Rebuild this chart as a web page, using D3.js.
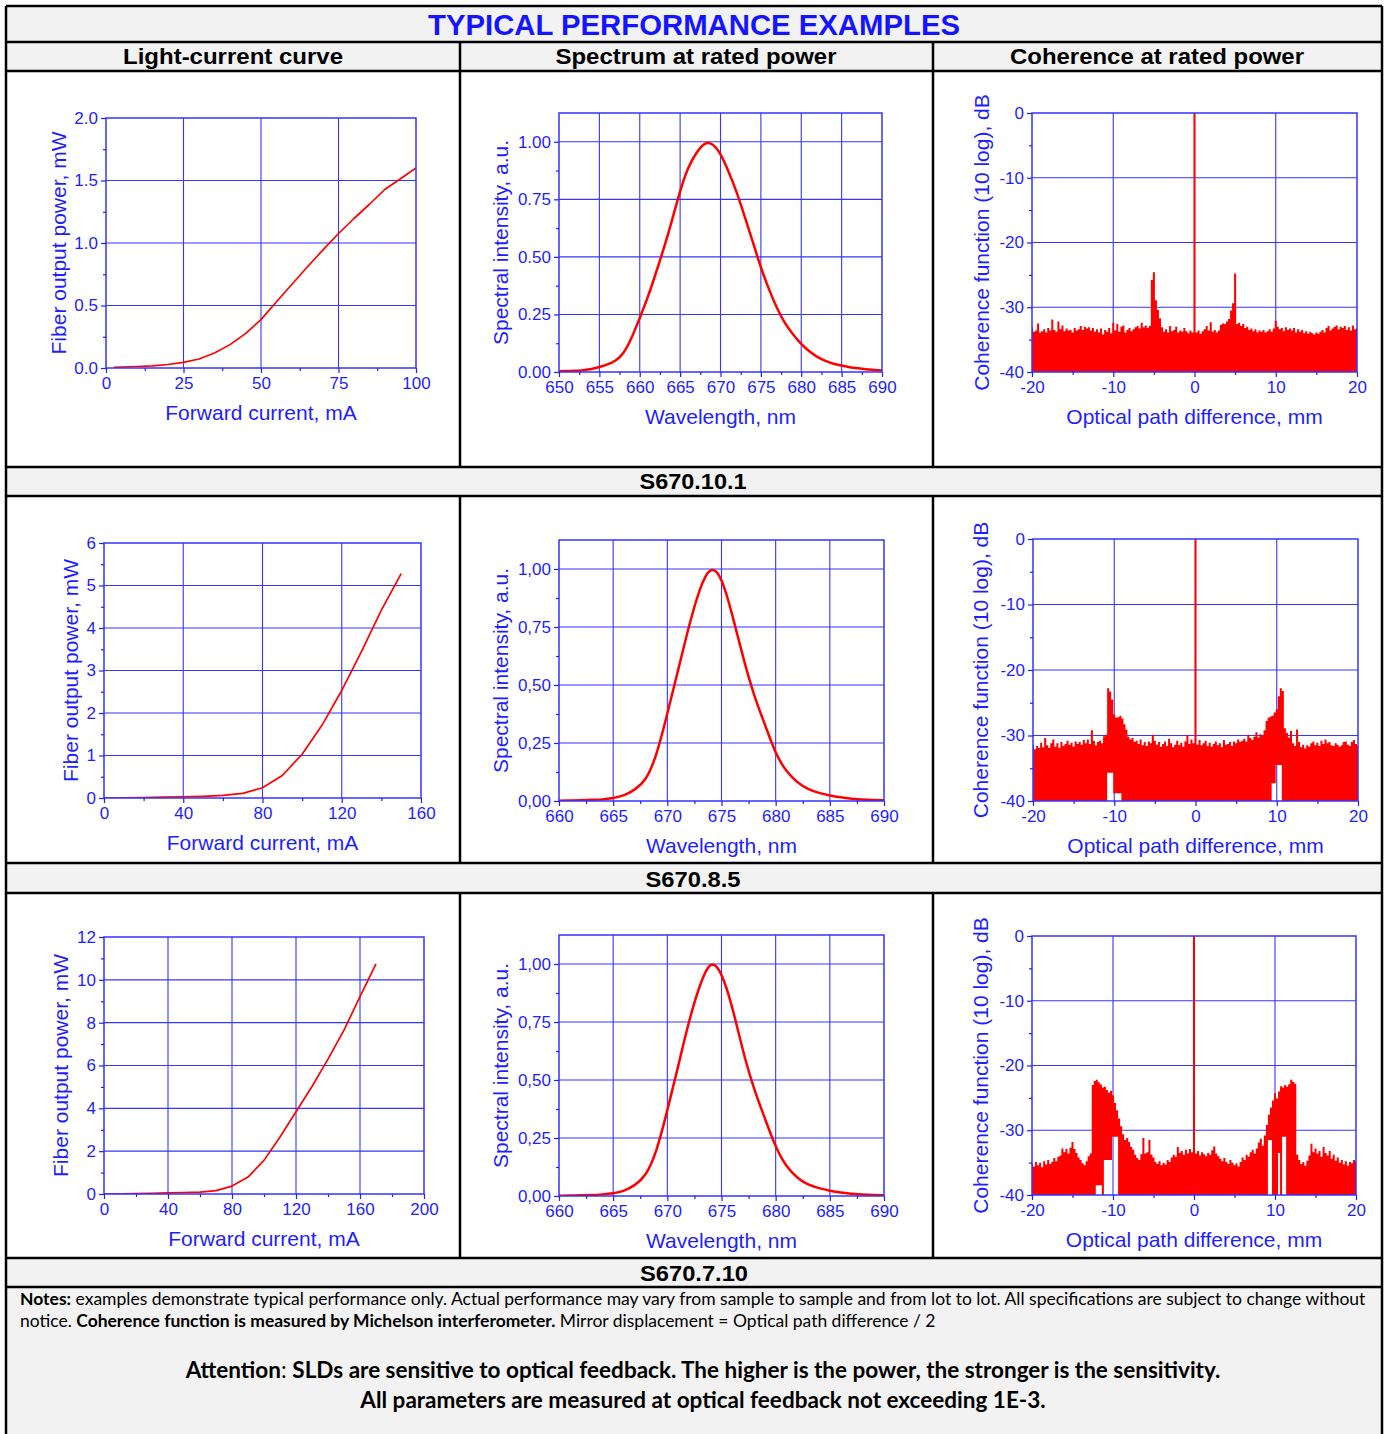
<!DOCTYPE html>
<html>
<head>
<meta charset="utf-8">
<script src="https://cdn.jsdelivr.net/npm/d3@7"></script>
<style>
body{margin:0;background:#fff;}
</style>
</head>
<body>
<div id="sheet"></div>
<script>
//Light-current curves (forward current, mA / fiber power, mW)
var lc1Current=[2.5,5,10,15,20,25,30,35,40,45,50,55,60,65,70,75,80,85,90,95,100];
var lc1Power=[0.005,0.008,0.012,0.017,0.028,0.045,0.072,0.12,0.187,0.275,0.387,0.53,0.67,0.81,0.945,1.076,1.196,1.31,1.43,1.514,1.6];
var lc2Current=[0,10,20,30,40,50,60,70,80,90,100,110,120,130,140,150];
var lc2Power=[0,0.005,0.01,0.02,0.03,0.04,0.06,0.11,0.24,0.53,1.03,1.71,2.53,3.45,4.42,5.28];
var lc3Current=[0,10,20,30,40,50,60,70,80,90,100,110,120,130,140,150,160,170];
var lc3Power=[0,0.01,0.02,0.03,0.05,0.07,0.09,0.155,0.37,0.79,1.57,2.66,3.84,5.02,6.3,7.65,9.22,10.74];

//Spectra (wavelength, nm / intensity, a.u.)
var spec1Wl=[650,651,652,653,654,655,656,657,658,659,660,661,662,663,664,665,666,667,668,669,670,
             671,672,673,674,675,676,677,678,679,680,681,682,683,684,685,686,687,688,689,690];
var spec1Int=[0.003,0.004,0.005,0.008,0.013,0.022,0.033,0.05,0.085,0.15,0.235,0.326,0.43,0.54,0.66,0.785,0.885,0.95,0.99,0.988,0.945,
              0.87,0.78,0.675,0.565,0.455,0.36,0.278,0.212,0.163,0.122,0.09,0.066,0.048,0.036,0.028,0.021,0.016,0.012,0.009,0.006];
var spec2Wl=[660,661,662,663,664,665,666,667,668,669,670,671,672,673,674,675,
             676,677,678,679,680,681,682,683,684,685,686,687,688,689,690];
var spec2Int=[0.001,0.002,0.003,0.005,0.007,0.013,0.025,0.05,0.097,0.205,0.377,0.565,0.752,0.91,0.994,0.95,
              0.8,0.62,0.46,0.33,0.21,0.13,0.082,0.052,0.035,0.024,0.016,0.01,0.006,0.004,0.003];
var spec3Wl=[660,661,662,663,664,665,666,667,668,669,670,671,672,673,674,675,
             676,677,678,679,680,681,682,683,684,685,686,687,688,689,690];
var spec3Int=[0.001,0.002,0.003,0.004,0.007,0.012,0.023,0.048,0.095,0.2,0.37,0.56,0.75,0.905,0.995,0.952,
              0.81,0.625,0.465,0.335,0.215,0.13,0.08,0.05,0.034,0.023,0.015,0.01,0.006,0.004,0.003];

//Coherence (optical path difference grid, mm / upper envelope, dB)
var cohOpd=d3.range(-20,20.001,0.25);
var coh1Db=[
 -33.1,-33.8,-33.6,-32.5,-33.9,-33.7,-33.4,-33.9,
 -33.2,-33.6,-31.9,-33.5,-33.8,-32.2,-33.4,-32.8,
 -33.7,-33.3,-33.6,-33.5,-33.9,-33.2,-33.6,-33.4,
 -32.9,-33.5,-33.0,-33.3,-33.1,-33.6,-33.2,-33.8,
 -33.4,-33.9,-33.3,-34.2,-33.5,-33.8,-33.2,-34.0,
 -32.4,-33.6,-32.6,-33.8,-33.0,-32.8,-33.9,-33.5,
 -33.2,-33.7,-33.4,-33.1,-32.9,-33.3,-32.4,-33.1,
 -32.8,-33.2,-32.9,-25.8,-24.6,-28.9,-30.4,-31.7,
 -33.1,-33.8,-33.4,-33.9,-32.9,-33.7,-33.5,-33.0,
 -33.9,-33.6,-33.8,-33.2,-33.7,-34.0,-33.6,-33.9,
 0,-33.9,-33.6,-34.1,-33.7,-33.4,-32.9,-33.6,
 -32.3,-33.8,-33.5,-33.9,-33.6,-32.7,-32.5,-32.6,
 -32.2,-31.8,-30.5,-29.4,-24.8,-32.6,-32.4,-32.9,
 -32.6,-33.2,-33.0,-33.5,-33.3,-33.7,-33.4,-33.9,
 -33.6,-33.8,-33.5,-33.9,-33.7,-33.4,-33.8,-33.3,
 -32.1,-33.0,-33.4,-33.2,-33.7,-33.1,-33.5,-33.3,
 -33.6,-33.2,-33.9,-33.4,-33.8,-33.5,-34.0,-33.7,
 -34.1,-33.8,-34.0,-34.2,-33.9,-34.1,-33.8,-33.5,
 -33.9,-33.2,-32.9,-33.6,-33.3,-33.0,-32.8,-33.4,
 -33.0,-33.2,-32.9,-33.5,-33.1,-33.6,-32.8,-33.4,
 -33.2];
var coh2Db=[
 -31.4,-32.1,-31.6,-31.9,-31.1,-31.8,-30.4,-31.5,
 -31.9,-31.2,-30.6,-31.7,-31.2,-31.9,-31.0,-31.6,
 -31.3,-30.8,-31.4,-31.1,-31.7,-30.9,-31.3,-31.0,
 -31.4,-30.7,-31.2,-30.6,-31.3,-29.2,-30.8,-31.5,
 -31.0,-30.8,-31.2,-30.1,-29.9,-22.8,-23.3,-24.5,
 -26.8,-27.3,-27.2,-27.0,-27.4,-28.3,-29.1,-30.2,
 -30.6,-30.4,-31.0,-30.8,-31.3,-30.6,-31.5,-31.0,
 -31.6,-30.9,-31.2,-29.9,-30.8,-31.4,-31.0,-31.7,
 -31.3,-30.9,-31.6,-30.5,-31.2,-31.8,-31.4,-30.8,
 -31.5,-31.1,-31.7,-30.9,-29.9,-31.3,-30.6,-31.2,
 0,-31.4,-30.7,-31.5,-31.2,-30.8,-31.6,-31.1,
 -31.7,-31.3,-30.9,-31.5,-31.2,-31.8,-30.7,-31.4,
 -31.3,-31.0,-31.6,-30.9,-31.2,-30.6,-31.0,-30.8,
 -30.5,-30.9,-29.9,-30.4,-30.7,-30.2,-29.5,-30.3,
 -29.8,-30.0,-29.2,-27.8,-27.3,-27.1,-27.0,-26.5,
 -26.0,-24.0,-22.8,-23.2,-28.9,-29.6,-30.3,-29.3,
 -31.2,-31.6,-29.1,-31.0,-31.8,-31.4,-32.0,-31.5,
 -31.7,-31.2,-30.9,-31.5,-31.1,-31.6,-30.8,-31.3,
 -30.6,-31.2,-31.0,-31.5,-31.6,-31.2,-31.4,-31.7,
 -31.5,-31.0,-30.9,-31.4,-31.6,-31.0,-30.7,-31.3,
 -31.6];
var coh3Db=[
 -35.2,-35.6,-34.9,-35.4,-35.0,-35.7,-34.8,-35.3,
 -34.6,-35.2,-34.9,-34.3,-34.8,-34.1,-33.9,-32.8,
 -33.4,-32.9,-33.6,-32.7,-31.8,-32.9,-33.5,-34.2,
 -34.6,-35.1,-35.4,-34.8,-34.0,-33.6,-23.0,-22.4,
 -22.2,-22.6,-22.9,-23.4,-23.3,-23.8,-24.2,-23.9,
 -24.6,-25.8,-26.9,-28.2,-29.4,-30.6,-31.5,-31.2,
 -31.8,-32.6,-33.0,-33.8,-34.3,-34.6,-33.7,-31.2,
 -33.6,-33.4,-31.5,-33.8,-34.2,-34.9,-35.2,-34.8,
 -35.4,-35.0,-35.3,-34.6,-34.9,-34.2,-33.8,-34.1,
 -32.6,-33.5,-33.2,-33.8,-33.0,-33.6,-32.9,-33.4,
 0,-33.6,-33.2,-33.9,-33.4,-33.7,-34.0,-33.5,
 -33.8,-33.1,-32.5,-33.6,-34.0,-34.4,-34.8,-34.3,
 -34.9,-35.2,-34.6,-35.0,-35.4,-35.1,-35.6,-34.9,
 -34.2,-34.6,-33.8,-34.1,-33.4,-33.0,-33.6,-32.8,
 -31.9,-31.3,-32.4,-30.8,-29.2,-27.6,-26.5,-25.4,
 -24.3,-25.1,-24.0,-23.2,-23.4,-23.0,-23.3,-22.9,
 -22.2,-22.5,-22.8,-33.8,-34.6,-35.2,-34.9,-35.5,
 -34.7,-33.9,-32.1,-33.4,-32.8,-33.6,-33.2,-34.1,
 -32.6,-33.5,-33.9,-33.2,-34.4,-33.8,-34.7,-34.2,
 -35.0,-34.6,-35.3,-34.8,-35.5,-34.9,-35.1,-34.6,
 -34.8];
//Where the fringe minima stay above the floor: [from mm, to mm, lower dB]
var coh1Gaps=[];
var coh2Gaps=[[-10.8,-10.1,-35.7],[-10.0,-9.2,-38.8],[9.4,9.95,-37.3],[10.0,10.5,-34.5]];
var coh3Gaps=[[-12.1,-11.4,-38.5],[-11.0,-10.2,-34.6],[-10.0,-9.5,-31.0],[9.2,9.7,-31.5],[10.3,10.7,-33.5],[11.0,11.4,-31.0]];

//Tick values
var lc1XTicks=[0,25,50,75,100], lc1YTicks=[0,0.5,1,1.5,2];
var lc2XTicks=[0,40,80,120,160], lc2YTicks=[0,1,2,3,4,5,6];
var lc3XTicks=[0,40,80,120,160,200], lc3YTicks=[0,2,4,6,8,10,12];
var spec1XTicks=[650,655,660,665,670,675,680,685,690];
var spec2XTicks=[660,665,670,675,680,685,690];
var specYTicks=[0,0.25,0.5,0.75,1];
var cohXTicks=[-20,-10,0,10,20], cohYTicks=[-40,-30,-20,-10,0];

var W=1388, H=1434;
var blue="#1e1eff", gridBlue="#3535ff", red="#ff0000", gray="#f2f2f2";
var arial='"Liberation Sans", Arial, sans-serif';
var narrow='"Liberation Sans Narrow", "Liberation Sans", Arial, sans-serif';

var svg=d3.select("#sheet")
          .append("svg")
          .attr("width",W)
          .attr("height",H);

//Gray bands of the table
var bands=[[6,42],[42,71],[467,496],[863,893],[1258,1287],[1287,1440]];
svg.selectAll("rect.band")
   .data(bands)
   .enter()
   .append("rect")
   .attr("class","band")
   .attr("x",6).attr("width",1376)
   .attr("y",function(d){return d[0];})
   .attr("height",function(d){return d[1]-d[0];})
   .attr("fill",gray);

//Table lines
var hLines=[6,42,71,467,496,863,893,1258,1287];
svg.selectAll("line.h")
   .data(hLines)
   .enter()
   .append("line")
   .attr("x1",6).attr("x2",1382)
   .attr("y1",function(d){return d;}).attr("y2",function(d){return d;})
   .attr("stroke","#000").attr("stroke-width",2.5);
[6,1382].forEach(function(xx){
    svg.append("line").attr("x1",xx).attr("x2",xx).attr("y1",6).attr("y2",H+5)
       .attr("stroke","#000").attr("stroke-width",2.5);
});
[[42,467],[496,863],[893,1258]].forEach(function(r){
    [460,933].forEach(function(xx){
        svg.append("line").attr("x1",xx).attr("x2",xx).attr("y1",r[0]).attr("y2",r[1])
           .attr("stroke","#000").attr("stroke-width",2.5);
    });
});

//Headings (narrow bold, squeezed to the widths of the original)
function heading(txt,cx,y,size,len,col){
    svg.append("text")
       .attr("x",cx).attr("y",y)
       .attr("text-anchor","middle")
       .attr("font-family",narrow)
       .attr("font-weight","bold")
       .attr("font-size",size)
       .attr("fill",col)
       .attr("textLength",len)
       .attr("lengthAdjust","spacingAndGlyphs")
       .text(txt);
}
heading("TYPICAL PERFORMANCE EXAMPLES",694,35,29,532,"#1414ff");
heading("Light-current curve",233,64,22,220,"#000");
heading("Spectrum at rated power",696,64,22,281,"#000");
heading("Coherence at rated power",1157,64,22,294,"#000");
heading("S670.10.1",693,489,22,107,"#000");
heading("S670.8.5",693,887,22,95,"#000");
heading("S670.7.10",694,1281,22,108,"#000");

//One chart panel
var clipId=0;
function drawPanel(p){
    var g=svg.append("g");
    var x=d3.scaleLinear().domain(p.xDomain).range([p.left,p.right]);
    var y=d3.scaleLinear().domain(p.yDomain).range([p.bottom,p.top]);
    var inX=p.xTicks.filter(function(d){return d>p.xDomain[0]&&d<p.xDomain[1];});
    var inY=p.yTicks.filter(function(d){return d>p.yDomain[0]&&d<p.yDomain[1];});

    //grid
    g.selectAll("line.vg").data(inX).enter().append("line")
     .attr("x1",function(d){return x(d);}).attr("x2",function(d){return x(d);})
     .attr("y1",p.top).attr("y2",p.bottom)
     .attr("stroke",gridBlue).attr("stroke-width",1.1);
    g.selectAll("line.hg").data(inY).enter().append("line")
     .attr("y1",function(d){return y(d);}).attr("y2",function(d){return y(d);})
     .attr("x1",p.left).attr("x2",p.right)
     .attr("stroke",gridBlue).attr("stroke-width",1.1);

    clipId++;
    g.append("clipPath").attr("id","clip"+clipId)
     .append("rect").attr("x",p.left).attr("y",p.top)
     .attr("width",p.right-p.left).attr("height",p.bottom-p.top);
    var pts=p.xs.map(function(d,i){return {x:d,v:p.ys[i]};});

    if(p.kind=="coh"){
        //lower edge: floor, except where the fringe minima stay higher
        pts.forEach(function(d){
            d.lo=p.yDomain[0];
            p.gaps.forEach(function(gp){ if(d.x>=gp[0]&&d.x<=gp[1]) d.lo=gp[2]; });
        });
        var area=d3.area().curve(d3.curveStep)
                   .x(function(d){return x(d.x);})
                   .y0(function(d){return y(d.lo);})
                   .y1(function(d){return y(d.v);});
        g.append("path").datum(pts)
         .attr("clip-path","url(#clip"+clipId+")")
         .attr("d",area).attr("fill",red);
    } else {
        var line=d3.line()
                   .curve(p.kind=="spec"?d3.curveNatural:d3.curveLinear)
                   .x(function(d){return x(d.x);})
                   .y(function(d){return y(d.v);});
        g.append("path").datum(pts)
         .attr("clip-path","url(#clip"+clipId+")")
         .attr("d",line).attr("fill","none")
         .attr("stroke",red).attr("stroke-width",p.kind=="spec"?2.5:1.7)
         .attr("stroke-linejoin","round");
    }

    //frame
    g.append("rect").attr("x",p.left).attr("y",p.top)
     .attr("width",p.right-p.left).attr("height",p.bottom-p.top)
     .attr("fill","none").attr("stroke",gridBlue).attr("stroke-width",1.5);

    //axes
    function styleAxis(a){
        a.select(".domain").remove();
        a.selectAll("line").attr("stroke",blue).attr("stroke-width",1.2);
        a.selectAll("text").attr("fill",blue);
        a.attr("font-family",arial).attr("font-size",17);
    }
    g.append("g").attr("transform","translate(0,"+p.bottom+")")
     .call(d3.axisBottom(x).tickValues(p.xMinor).tickSize(3).tickFormat(""))
     .call(styleAxis);
    g.append("g").attr("transform","translate("+p.left+",0)")
     .call(d3.axisLeft(y).tickValues(p.yMinor).tickSize(3).tickFormat(""))
     .call(styleAxis);
    g.append("g").attr("transform","translate(0,"+p.bottom+")")
     .call(d3.axisBottom(x).tickValues(p.xTicks).tickSize(5).tickPadding(4).tickFormat(p.fmtX))
     .call(styleAxis);
    g.append("g").attr("transform","translate("+p.left+",0)")
     .call(d3.axisLeft(y).tickValues(p.yTicks).tickSize(5).tickPadding(3).tickFormat(p.fmtY))
     .call(styleAxis);

    //axis titles
    g.append("text")
     .attr("x",(p.left+p.right)/2).attr("y",p.bottom+52)
     .attr("text-anchor","middle")
     .attr("font-family",arial).attr("font-size",21).attr("fill",blue)
     .text(p.xTitle);
    g.append("text")
     .attr("transform","translate("+(p.left-p.yTitleOff)+","+((p.top+p.bottom)/2)+")rotate(-90)")
     .attr("text-anchor","middle")
     .attr("font-family",arial).attr("font-size",21).attr("fill",blue)
     .text(p.yTitle);
}

var fmtPlain=function(d){return String(d);};
var fmt1=function(d){return d.toFixed(1);};
var fmt2=function(d){return d.toFixed(2);};
var fmt2c=function(d){return d.toFixed(2).replace(".",",");};
var lcX="Forward current, mA", lcY="Fiber output power, mW";
var spX="Wavelength, nm", spY="Spectral intensity, a.u.";
var chX="Optical path difference, mm", chY="Coherence function (10 log), dB";

var panels=[
 {kind:"lc",left:106,right:416,top:118,bottom:368,xDomain:[0,100],yDomain:[0,2],
  xTicks:lc1XTicks,yTicks:lc1YTicks,xMinor:[12.5,37.5,62.5,87.5],yMinor:[0.25,0.75,1.25,1.75],
  fmtX:fmtPlain,fmtY:fmt1,xs:lc1Current,ys:lc1Power,xTitle:lcX,yTitle:lcY,yTitleOff:40},
 {kind:"spec",left:559,right:882,top:113,bottom:372,xDomain:[650,690],yDomain:[0,1.125],
  xTicks:spec1XTicks,yTicks:specYTicks,xMinor:[652.5,657.5,662.5,667.5,672.5,677.5,682.5,687.5],
  yMinor:[0.125,0.375,0.625,0.875],fmtX:fmtPlain,fmtY:fmt2,xs:spec1Wl,ys:spec1Int,
  xTitle:spX,yTitle:spY,yTitleOff:51},
 {kind:"coh",left:1032,right:1357,top:113,bottom:372,xDomain:[-20,20],yDomain:[-40,0],
  xTicks:cohXTicks,yTicks:cohYTicks,xMinor:[-15,-5,5,15],yMinor:[-35,-25,-15,-5],
  fmtX:fmtPlain,fmtY:fmtPlain,xs:cohOpd,ys:coh1Db,gaps:coh1Gaps,xTitle:chX,yTitle:chY,yTitleOff:43},

 {kind:"lc",left:104,right:421,top:543,bottom:798,xDomain:[0,160],yDomain:[0,6],
  xTicks:lc2XTicks,yTicks:lc2YTicks,xMinor:[20,60,100,140],yMinor:[0.5,1.5,2.5,3.5,4.5,5.5],
  fmtX:fmtPlain,fmtY:fmtPlain,xs:lc2Current,ys:lc2Power,xTitle:lcX,yTitle:lcY,yTitleOff:26},
 {kind:"spec",left:559,right:884,top:540,bottom:801,xDomain:[660,690],yDomain:[0,1.125],
  xTicks:spec2XTicks,yTicks:specYTicks,xMinor:[662.5,667.5,672.5,677.5,682.5,687.5],
  yMinor:[0.125,0.375,0.625,0.875],fmtX:fmtPlain,fmtY:fmt2c,xs:spec2Wl,ys:spec2Int,
  xTitle:spX,yTitle:spY,yTitleOff:51},
 {kind:"coh",left:1033,right:1358,top:539,bottom:801,xDomain:[-20,20],yDomain:[-40,0],
  xTicks:cohXTicks,yTicks:cohYTicks,xMinor:[-15,-5,5,15],yMinor:[-35,-25,-15,-5],
  fmtX:fmtPlain,fmtY:fmtPlain,xs:cohOpd,ys:coh2Db,gaps:coh2Gaps,xTitle:chX,yTitle:chY,yTitleOff:45},

 {kind:"lc",left:104,right:424,top:937,bottom:1194,xDomain:[0,200],yDomain:[0,12],
  xTicks:lc3XTicks,yTicks:lc3YTicks,xMinor:[20,60,100,140,180],yMinor:[1,3,5,7,9,11],
  fmtX:fmtPlain,fmtY:fmtPlain,xs:lc3Current,ys:lc3Power,xTitle:lcX,yTitle:lcY,yTitleOff:36},
 {kind:"spec",left:559,right:884,top:935,bottom:1196,xDomain:[660,690],yDomain:[0,1.125],
  xTicks:spec2XTicks,yTicks:specYTicks,xMinor:[662.5,667.5,672.5,677.5,682.5,687.5],
  yMinor:[0.125,0.375,0.625,0.875],fmtX:fmtPlain,fmtY:fmt2c,xs:spec3Wl,ys:spec3Int,
  xTitle:spX,yTitle:spY,yTitleOff:51},
 {kind:"coh",left:1032,right:1356,top:936,bottom:1195,xDomain:[-20,20],yDomain:[-40,0],
  xTicks:cohXTicks,yTicks:cohYTicks,xMinor:[-15,-5,5,15],yMinor:[-35,-25,-15,-5],
  fmtX:fmtPlain,fmtY:fmtPlain,xs:cohOpd,ys:coh3Db,gaps:coh3Gaps,xTitle:chX,yTitle:chY,yTitleOff:44}
];
panels.forEach(drawPanel);

//Notes block, font size fitted to the width of each original line
var noteFont='Lato, "Open Sans", sans-serif';
function noteLine(parts,x,y,anchor,target,size){
    var t=svg.append("text").attr("x",x).attr("y",y)
             .attr("text-anchor",anchor)
             .attr("font-family",noteFont).attr("font-size",size).attr("fill","#000");
    parts.forEach(function(pt){
        t.append("tspan").attr("font-weight",pt[1]?"bold":"normal").text(pt[0]);
    });
    var w=t.node().getComputedTextLength();
    t.attr("font-size",size*target/w);
}
noteLine([["Notes:",1],[" examples demonstrate typical performance only. Actual performance may vary from sample to sample and from lot to lot. All specifications are subject to change without",0]],20,1305,"start",1346,15);
noteLine([["notice. ",0],["Coherence function is measured by Michelson interferometer.",1],[" Mirror displacement = Optical path difference / 2",0]],20,1327,"start",916,15);
noteLine([["Attention",1],[": ",0],["SLDs are sensitive to optical feedback. The higher is the power, the stronger is the sensitivity.",1]],703,1378,"middle",1035,20);
noteLine([["All parameters are measured at optical feedback not exceeding 1E-3.",1]],703,1408,"middle",686,20);
</script>
</body>
</html>
